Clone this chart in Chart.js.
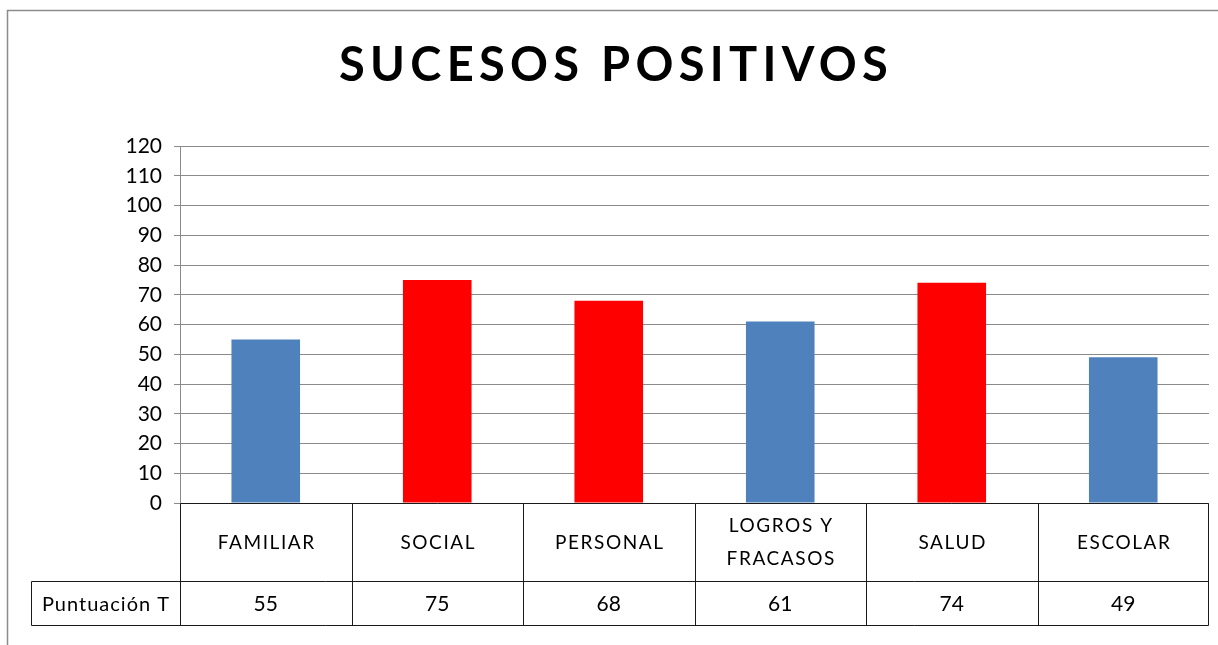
<!DOCTYPE html>
<html>
<head>
<meta charset="utf-8">
<script src="https://cdn.jsdelivr.net/npm/chart.js@4/dist/chart.umd.min.js"></script>
<style>
html,body{margin:0;padding:0;background:#fff;}
#wrap{width:1218px;height:645px;position:relative;}
</style>
</head>
<body>
<div id="wrap"><canvas id="c" width="1218" height="645"></canvas></div>
<script>
const titleText = 'SUCESOS POSITIVOS';
const categories = ['FAMILIAR', 'SOCIAL', 'PERSONAL', ['LOGROS Y', 'FRACASOS'], 'SALUD', 'ESCOLAR'];
const seriesName = 'Puntuación T';
const values = [55, 75, 68, 61, 74, 49];
const barColors = ['#4F81BD', '#FF0000', '#FF0000', '#4F81BD', '#FF0000', '#4F81BD'];
const yMin = 0, yMax = 120, yStep = 10;

const FONT = 'Lato, "Open Sans", "Liberation Sans", sans-serif';

const decor = {
  id: 'decor',
  beforeDraw(chart) {
    const ctx = chart.ctx;
    ctx.save();
    ctx.fillStyle = '#fff';
    ctx.fillRect(0, 0, chart.width, chart.height);
    ctx.strokeStyle = '#8c8c8c';
    ctx.lineWidth = 1.5;
    ctx.beginPath();
    ctx.moveTo(7.5, chart.height + 5);
    ctx.lineTo(7.5, 10.5);
    ctx.lineTo(chart.width + 5, 10.5);
    ctx.stroke();
    // title
    ctx.fillStyle = '#000';
    ctx.font = 'bold 47px ' + FONT;
    ctx.textBaseline = 'middle';
    ctx.textAlign = 'center';
    ctx.letterSpacing = '5.3px';
    ctx.fillText(titleText, 616, 66);
    ctx.restore();
  },
  afterDraw(chart) {
    const ctx = chart.ctx;
    const xs = chart.scales.x, ys = chart.scales.y;
    const n = categories.length;
    const half = (xs.getPixelForValue(1) - xs.getPixelForValue(0)) / 2;
    const y0 = Math.round(ys.getPixelForValue(0)) + 0.5;
    const y1 = y0 + 78, y2 = y1 + 44;
    const left = Math.round(xs.getPixelForValue(0) - half) + 0.5;
    const right = Math.round(xs.getPixelForValue(n - 1) + half) - 0.5;
    const labelLeft = 31.5;
    ctx.save();
    ctx.strokeStyle = '#1a1a1a';
    ctx.lineWidth = 1;
    ctx.beginPath();
    ctx.moveTo(left, y0); ctx.lineTo(right, y0);
    ctx.moveTo(labelLeft, y1); ctx.lineTo(right, y1);
    ctx.moveTo(labelLeft, y2); ctx.lineTo(right, y2);
    ctx.moveTo(labelLeft, y1); ctx.lineTo(labelLeft, y2);
    for (let i = 0; i <= n; i++) {
      const x = i < n ? Math.round(xs.getPixelForValue(i) - half) + 0.5 : right;
      ctx.moveTo(x, y0); ctx.lineTo(x, y2);
    }
    ctx.stroke();
    ctx.fillStyle = '#000';
    ctx.textAlign = 'center';
    ctx.textBaseline = 'middle';
    ctx.font = '19px ' + FONT;
    ctx.letterSpacing = '1.6px';
    categories.forEach((c, i) => {
      const cx = xs.getPixelForValue(i) + 1;
      const lines = Array.isArray(c) ? c : [c];
      const lh = 33;
      const start = (y0 + y1) / 2 - (lines.length - 1) * lh / 2;
      lines.forEach((t, k) => ctx.fillText(t, cx, start + k * lh));
    });
    ctx.letterSpacing = '0px';
    ctx.font = '21px ' + FONT;
    values.forEach((v, i) => {
      ctx.fillText(String(v), xs.getPixelForValue(i), (y1 + y2) / 2 + 1);
    });
    ctx.letterSpacing = '1px';
    ctx.font = '20px ' + FONT;
    ctx.fillText(seriesName, (labelLeft + left) / 2, (y1 + y2) / 2 + 1);
    ctx.restore();
  }
};

new Chart(document.getElementById('c'), {
  type: 'bar',
  data: {
    labels: categories,
    datasets: [{
      label: seriesName,
      data: values,
      backgroundColor: barColors,
      borderWidth: 0,
      categoryPercentage: 1,
      barPercentage: 0.4
    }]
  },
  options: {
    responsive: false,
    animation: false,
    events: [],
    layout: { padding: { left: 0, top: 146, right: 9, bottom: 142 } },
    plugins: { legend: { display: false }, title: { display: false }, tooltip: { enabled: false } },
    scales: {
      x: { display: false },
      y: {
        min: yMin, max: yMax,
        ticks: { stepSize: yStep, color: '#000', font: { family: FONT, size: 21 }, padding: 12 },
        grid: { color: '#8a8a8a', lineWidth: 1, tickLength: 6, drawTicks: true },
        border: { color: '#8a8a8a', width: 1 },
        afterFit(scale) { scale.width = 180; scale.paddingTop = 0; scale.paddingBottom = 0; }
      }
    }
  },
  plugins: [decor]
});
</script>
</body>
</html>
